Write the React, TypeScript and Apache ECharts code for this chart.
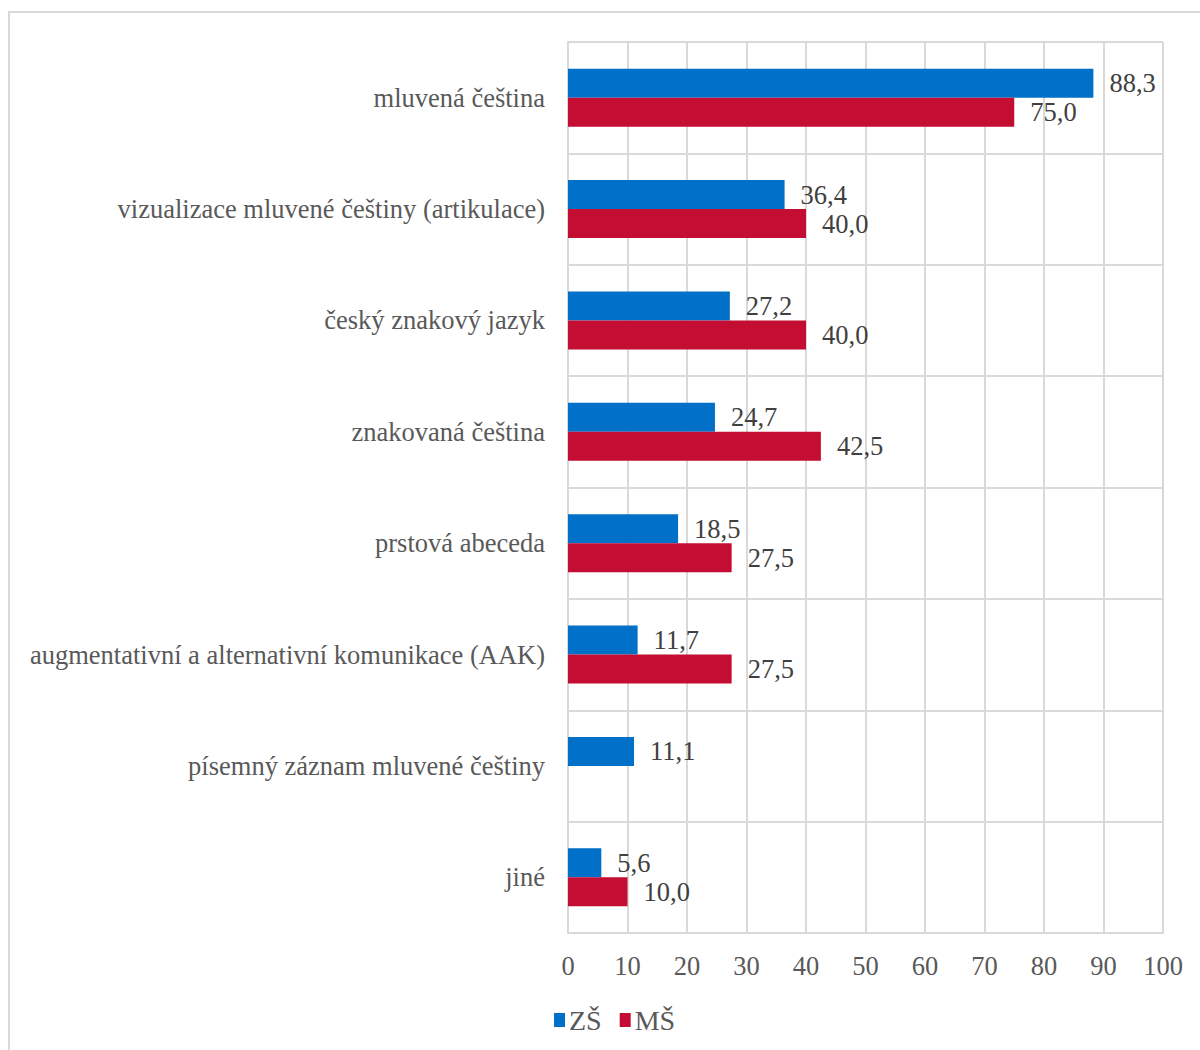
import React, { useEffect, useRef } from "react";
import * as echarts from "echarts";

const categories = [
  "mluvená čeština",
  "vizualizace mluvené češtiny (artikulace)",
  "český znakový jazyk",
  "znakovaná čeština",
  "prstová abeceda",
  "augmentativní a alternativní komunikace (AAK)",
  "písemný záznam mluvené češtiny",
  "jiné",
];
const zsValues = [88.3, 36.4, 27.2, 24.7, 18.5, 11.7, 11.1, 5.6];
const msValues: (number | null)[] = [75.0, 40.0, 40.0, 42.5, 27.5, 27.5, null, 10.0];
const seriesNames = ["ZŠ", "MŠ"];

const FONT = "'Liberation Serif', 'Times New Roman', serif";
const FS = 26.5;

export default function App() {
  const ref = useRef<HTMLDivElement>(null);
  useEffect(() => {
    document.body.style.margin = "0";
    const chart = echarts.init(ref.current!, undefined, { renderer: "svg" });
    const label = {
      show: true,
      position: "right",
      distance: 16,
      fontFamily: FONT,
      fontSize: FS,
      color: "#404040",
      formatter: (p: any) => (p.value == null ? "" : Number(p.value).toFixed(1).replace(".", ",")),
    };
    chart.setOption({
      animation: false,
      textStyle: { fontFamily: FONT },
      graphic: [
        {
          type: "rect",
          shape: { x: 9, y: 12, width: 1400, height: 1200 },
          style: { fill: "none", stroke: "#d9d9d9", lineWidth: 2 },
          silent: true,
        },
      ],
      grid: { left: 568, right: 37, top: 42, bottom: 117, containLabel: false },
      legend: {
        top: 1006,
        left: 554,
        itemWidth: 11,
        itemHeight: 14,
        itemGap: 18,
        icon: "rect",
        padding: 0,
        textStyle: { fontFamily: FONT, fontSize: 28, color: "#595959", padding: [0, 0, 0, -1] },
        data: seriesNames,
      },
      xAxis: {
        type: "value",
        min: 0,
        max: 100,
        interval: 10,
        axisLine: { show: true, lineStyle: { color: "#d9d9d9", width: 2 } },
        axisTick: { show: false },
        splitLine: { show: true, lineStyle: { color: "#d9d9d9", width: 2 } },
        axisLabel: { fontFamily: FONT, fontSize: FS, color: "#595959", margin: 19 },
      },
      yAxis: {
        type: "category",
        inverse: true,
        data: categories,
        axisLine: { show: true, lineStyle: { color: "#d9d9d9", width: 2 } },
        axisTick: { show: false },
        splitLine: { show: true, lineStyle: { color: "#d9d9d9", width: 2 } },
        axisLabel: { fontFamily: FONT, fontSize: FS, color: "#595959", margin: 23 },
      },
      series: [
        {
          name: seriesNames[0],
          type: "bar",
          data: zsValues,
          barWidth: 29,
          barGap: "0%",
          itemStyle: { color: "#0070C8" },
          label,
        },
        {
          name: seriesNames[1],
          type: "bar",
          data: msValues,
          barWidth: 29,
          barGap: "0%",
          itemStyle: { color: "#C40D32" },
          label,
        },
      ],
    });
    return () => chart.dispose();
  }, []);
  return <div ref={ref} style={{ width: 1200, height: 1050 }} />;
}
